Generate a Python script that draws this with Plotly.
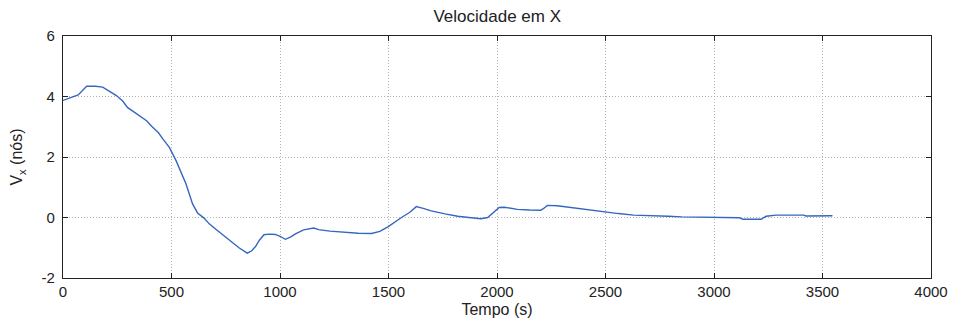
import plotly.graph_objects as go

# Time (s) and velocity in X (knots)
tempo = [0, 40, 70, 109, 150, 183, 215, 246, 275, 298, 325, 353, 385, 412, 440, 460,
         490, 521, 545, 567, 597, 620, 650, 674, 710, 750, 790, 811, 849, 870, 888,
         905, 926, 950, 979, 1000, 1025, 1050, 1071, 1090, 1109, 1155, 1178, 1230,
         1300, 1360, 1422, 1460, 1499, 1537, 1560, 1600, 1628, 1660, 1697, 1760,
         1819, 1870, 1926, 1957, 1985, 2010, 2033, 2060, 2094, 2150, 2201, 2215,
         2232, 2278, 2340, 2400, 2450, 2492, 2560, 2629, 2700, 2790, 2851, 2920,
         2973, 3050, 3118, 3133, 3217, 3240, 3286, 3350, 3416, 3423, 3490, 3546]
vx = [3.87, 3.96, 4.05, 4.34, 4.34, 4.31, 4.18, 4.03, 3.85, 3.63, 3.50, 3.37, 3.20,
      2.99, 2.80, 2.60, 2.32, 1.88, 1.50, 1.11, 0.45, 0.15, -0.02, -0.21, -0.42,
      -0.65, -0.88, -1.00, -1.18, -1.10, -0.95, -0.75, -0.57, -0.55, -0.56, -0.62,
      -0.72, -0.64, -0.54, -0.47, -0.41, -0.35, -0.40, -0.45, -0.50, -0.52, -0.53,
      -0.46, -0.30, -0.10, 0.00, 0.18, 0.36, 0.30, 0.22, 0.12, 0.04, 0.00, -0.04,
      0.00, 0.18, 0.33, 0.34, 0.30, 0.27, 0.25, 0.24, 0.30, 0.40, 0.39, 0.33,
      0.27, 0.22, 0.19, 0.13, 0.08, 0.07, 0.04, 0.02, 0.01, 0.00, -0.01, -0.01,
      -0.06, -0.06, 0.04, 0.08, 0.08, 0.08, 0.05, 0.05, 0.06]

x_ticks = [0, 500, 1000, 1500, 2000, 2500, 3000, 3500, 4000]
y_ticks = [-2, 0, 2, 4, 6]

FONT = "Liberation Sans, Arial, sans-serif"

fig = go.Figure()
fig.add_trace(go.Scatter(
    x=tempo, y=vx, mode="lines",
    line=dict(color="#3566c0", width=1.4),
    showlegend=False,
))

axis_common = dict(
    showline=True, linecolor="#222222", linewidth=1.2, mirror="ticks",
    ticks="inside", ticklen=5, tickcolor="#222222", tickwidth=1,
    showgrid=True, gridcolor="#b4b4b4", griddash="1px,2px", gridwidth=1,
    zeroline=False,
    tickfont=dict(family=FONT, size=15, color="#222222"),
)

fig.update_layout(
    width=960, height=329,
    margin=dict(l=63, r=24, t=36, b=51),
    paper_bgcolor="white", plot_bgcolor="white",
    title=dict(
        text="Velocidade em X", x=0.518, xanchor="center", y=0.952, yanchor="middle",
        font=dict(family=FONT, size=17, color="#222222"),
    ),
    xaxis=dict(
        range=[0, 4000], tickvals=x_ticks, ticktext=[str(v) for v in x_ticks],
        title=dict(text="Tempo (s)", standoff=4,
                   font=dict(family=FONT, size=16, color="#222222")),
        **axis_common,
    ),
    yaxis=dict(
        range=[-2, 6], tickvals=y_ticks, ticktext=[str(v) for v in y_ticks],
        ticklabelstandoff=4,
        title=dict(text="V<sub>x</sub> (nós)", standoff=14,
                   font=dict(family=FONT, size=16, color="#222222")),
        **axis_common,
    ),
)

fig.write_html("out.html")
